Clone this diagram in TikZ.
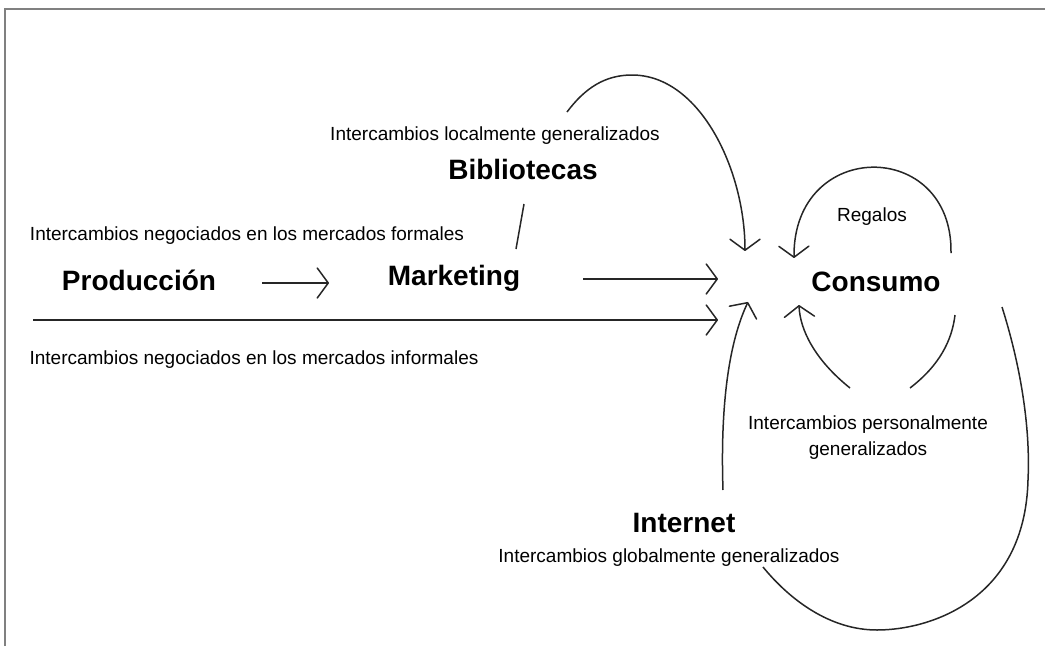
\documentclass[tikz,border=0pt]{standalone}
\usepackage{fontspec}
\setmainfont{Liberation Sans}
\usetikzlibrary{arrows.meta,positioning}
\tikzset{
	flow/.style={line width=1.5pt, draw=black!85, -{Straight Barb[length=11pt,width=30pt,round]}},
	stroke/.style={line width=1.5pt, draw=black!85},
	actor/.style={font=\fontsize{28}{32}\selectfont\bfseries, inner sep=0pt, anchor=base},
	note/.style={font=\fontsize{19}{26}\selectfont, inner sep=0pt, anchor=base, align=center},
}

\begin{document}
\begin{tikzpicture}[x=1pt,y=-1pt]
		%%%%% START %%%%%
		\useasboundingbox (0,0) rectangle (1045,646);
		\draw[line width=2.5pt, black!50] (5,646) -- (5,9) -- (1045,9);
		
		\node[actor] (prod) at (139,290) {Producción};
		\node[actor] (mkt) at (454,285) {Marketing};
		\node[actor] (bib) at (523,179) {Bibliotecas};
		\node[actor] (cons) at (876,291) {Consumo};
		\node[actor] (inet) at (684,532) {Internet};
		
		\node[note] (formal) at (247,240) {Intercambios negociados en los mercados formales};
		\node[note] (informal) at (254,364) {Intercambios negociados en los mercados informales};
		\node[note] (local) at (495,140) {Intercambios localmente generalizados};
		\node[note] (regalos) at (872,221) {Regalos};
		\node[note] (personal) at (868,455) {Intercambios personalmente\\generalizados};
		\node[note] (global) at (669,562) {Intercambios globalmente generalizados};
		
		\coordinate (pmA) at (262,283); \coordinate (pmB) at (329,283);
		\coordinate (mcA) at (583,279); \coordinate (mcB) at (718,279);
		\coordinate (infA) at (33,320); \coordinate (infB) at (718,320);
		\coordinate (bibA) at (524,204); \coordinate (bibB) at (516,249);
		\coordinate (topA) at (567,112); \coordinate (topP) at (632,75); \coordinate (topB) at (745,251);
		\coordinate (regA) at (951,253); \coordinate (regB) at (794,258);
		\coordinate (netA) at (723,490); \coordinate (netB) at (748,302);
		\coordinate (perA) at (850,388); \coordinate (perB) at (799,305);
		\coordinate (perC) at (910,388); \coordinate (perD) at (955,315);
		\coordinate (outA) at (1002,307); \coordinate (outM) at (1028,480);
		\coordinate (outL) at (877,630); \coordinate (outB) at (763,567);
		
		\draw[flow] (pmA) -- (pmB);
		\draw[flow] (mcA) -- (mcB);
		\draw[flow] (infA) -- (infB);
		\draw[stroke] (bibA) -- (bibB);
		\draw[flow] (topA) .. controls (585,88) and (605,75) .. (topP) .. controls (700,75) and (745,170) .. (topB);
		\draw[flow] (regA) .. controls (953,138) and (793,138) .. (regB);
		\draw[flow] (netA) .. controls (720,400) and (730,340) .. (netB);
		\draw[flow] (perA) .. controls (815,360) and (800,330) .. (perB);
		\draw[stroke] (perC) .. controls (940,365) and (952,340) .. (perD);
		\draw[stroke] (outA) .. controls (1025,380) and (1030,440) .. (outM) .. controls (1025,600) and (930,630) .. (outL) .. controls (830,630) and (790,600) .. (outB);
		%%%%% END %%%%%
	\end{tikzpicture}
\end{document}
